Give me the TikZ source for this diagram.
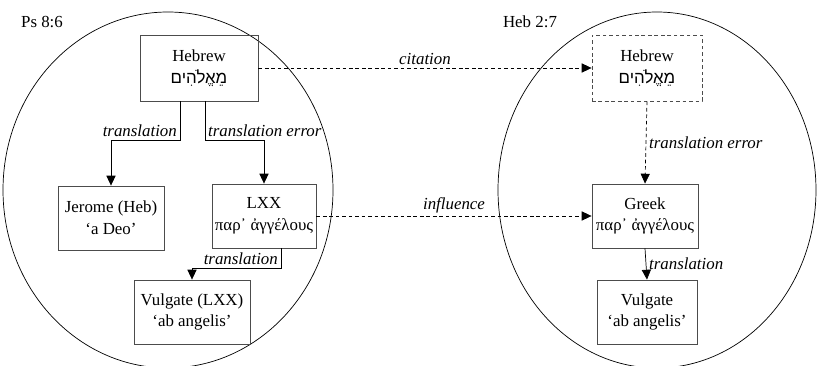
\documentclass[tikz,border=0pt]{standalone}
\usepackage{fontspec}
\setmainfont{Liberation Serif}
\newfontfamily\hebfont[Script=Hebrew]{Liberation Sans}
\newfontfamily\grkfont[Script=Greek]{Liberation Serif}
\TeXXeTstate=1
\usetikzlibrary{arrows.meta}

\begin{document}
\begin{tikzpicture}[x=0.025cm, y=-0.025cm,
		font=\fontsize{12}{15.5}\selectfont,
		box/.style={draw=black!70, line width=0.6pt, align=center, inner sep=2pt},
		arr/.style={-{Triangle[length=7pt,width=6.5pt]}, line width=0.5pt},
		dashline/.style={dash pattern=on 2.6pt off 2pt},
		lab/.style={font=\itshape\fontsize{12}{14}\selectfont, inner sep=2pt}]
		\useasboundingbox (0,0) rectangle (818,366);
		% the two passages
		\begin{scope}
		\clip (0,0) rectangle (818,366);
		\draw [black, line width=0.5pt] (168,190) ellipse (165 and 178);
		\draw [black, line width=0.5pt] (657,190) ellipse (159 and 178);
		\end{scope}
		\node (ps) at (42,22) {Ps 8:6};
		\node (heb) at (530,22) {Heb 2:7};
		% Ps 8:6
		\node [box, minimum width=118*0.025cm, minimum height=66*0.025cm] (hebL) at (199,68) {Hebrew\\{\hebfont\beginR מֵאֱלֹהִים\endR}};
		\node [box, minimum width=106*0.025cm, minimum height=64*0.025cm] (jerome) at (111,218) {Jerome (Heb)\\`a Deo'};
		\node [box, minimum width=104*0.025cm, minimum height=64*0.025cm] (lxx) at (264,216) {LXX\\{\grkfont παρ᾽ ἀγγέλους}};
		\node [box, minimum width=116*0.025cm, minimum height=64*0.025cm] (vulgL) at (192,312) {Vulgate (LXX)\\`ab angelis'};
		% Heb 2:7
		\node [box, dashline, minimum width=110*0.025cm, minimum height=66*0.025cm] (hebR) at (647,68) {Hebrew\\{\hebfont\beginR מֵאֱלֹהִים\endR}};
		\node [box, minimum width=106*0.025cm, minimum height=64*0.025cm] (greek) at (645,216) {Greek\\{\grkfont παρ᾽ ἀγγέλους}};
		\node [box, minimum width=100*0.025cm, minimum height=64*0.025cm] (vulgR) at (647,312) {Vulgate\\`ab angelis'};
		% connectors
		\coordinate (t1) at (180,140);
		\coordinate (t2) at (205,140);
		\coordinate (t3) at (281,268);
		\draw [arr] (hebL.south -| t1) -- (t1) node [lab, above left] {translation} -| (jerome.north);
		\draw [arr] (hebL.south -| t2) -- (t2) node [lab, above right] {translation error} -| (lxx.north);
		\draw [arr] (lxx.south -| t3) -- (t3) node [lab, above left] {translation} -| (vulgL.north);
		\draw [arr, dashline] (hebL.east) -- node [lab, above] {citation} (hebR.west);
		\draw [arr, dashline] (lxx.east) -- node [lab, above] {influence} (greek.west);
		\draw [arr, dashline] (hebR.south) -- node [lab, right] {translation error} (greek.north);
		\draw [arr] (greek.south) -- node [lab, right] {translation} (vulgR.north);
\end{tikzpicture}
\end{document}
